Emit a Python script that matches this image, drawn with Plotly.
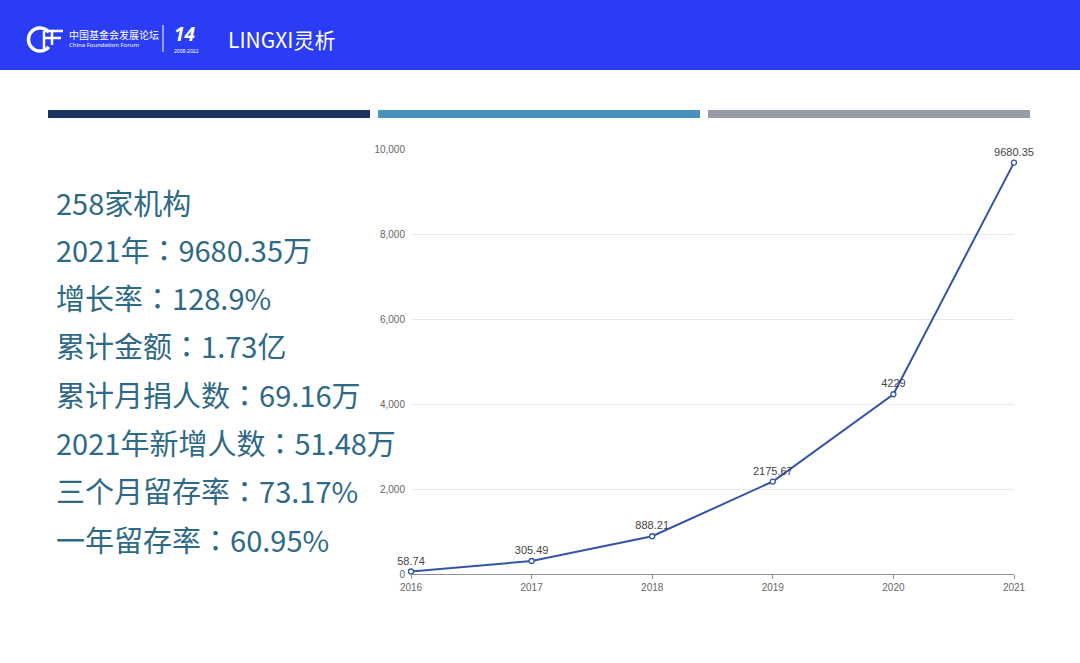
import plotly.graph_objects as go
import math

years = [2016, 2017, 2018, 2019, 2020, 2021]
amounts = [58.74, 305.49, 888.21, 2175.67, 4229, 9680.35]
amount_labels = ["58.74", "305.49", "888.21", "2175.67", "4229", "9680.35"]
y_ticks = [0, 2000, 4000, 6000, 8000, 10000]
y_tick_labels = ["0", "2,000", "4,000", "6,000", "8,000", "10,000"]
stats = ["258家机构", "2021年：9680.35万", "增长率：128.9%", "累计金额：1.73亿",
         "累计月捐人数：69.16万", "2021年新增人数：51.48万", "三个月留存率：73.17%", "一年留存率：60.95%"]

W, H = 1080, 663
L, R, T, B = 411, 66, 149, 89

def px_x(p): return (p - L) / (W - L - R)
def px_y(p): return (H - B - p) / (H - T - B)

fig = go.Figure()
fig.add_trace(go.Scatter(
    x=years, y=amounts, mode="lines+markers+text",
    text=amount_labels, textposition="top center",
    textfont=dict(family="Liberation Sans, Arial, sans-serif", size=11, color="#444"),
    line=dict(color="#3455a6", width=2),
    marker=dict(size=5, color="white", line=dict(color="#3455a6", width=1.3)),
    cliponaxis=False, showlegend=False, hoverinfo="x+y"))

shapes = [dict(type="rect", xref="paper", yref="paper", x0=px_x(0), x1=px_x(W), y0=px_y(70), y1=px_y(0),
               fillcolor="#2b3cf5", line_width=0, layer="below")]
for x0, x1, c in [(48, 370, "#1d335f"), (378, 700, "#4a91bb"), (708, 1030, "#969da6")]:
    shapes.append(dict(type="rect", xref="paper", yref="paper", x0=px_x(x0), x1=px_x(x1),
                       y0=px_y(118), y1=px_y(110), fillcolor=c, line_width=0))
# separator in header
shapes.append(dict(type="line", xref="paper", yref="paper", x0=px_x(163), x1=px_x(163),
                   y0=px_y(25), y1=px_y(52), line=dict(color="white", width=1)))

# CFF logo mark (decorative): open circle + F strokes
cx, cy, r = 40, 39.5, 11.5
pts = []
for k in range(0, 41):
    a = math.radians(40 + k * 7)
    pts.append((cx + r * math.cos(a), cy - r * math.sin(a)))
path = "M " + " L ".join(f"{px_x(x):.5f},{px_y(y):.5f}" for x, y in pts)
shapes.append(dict(type="path", xref="paper", yref="paper", path=path, line=dict(color="white", width=3.5)))
for (x0, y0, x1, y1) in [(44, 31, 54, 31), (44, 31, 44, 50), (44, 38, 52, 38),
                         (52, 31, 63, 31), (52, 31, 52, 45), (52, 38, 61, 38)]:
    shapes.append(dict(type="line", xref="paper", yref="paper", x0=px_x(x0), x1=px_x(x1),
                       y0=px_y(y0), y1=px_y(y1), line=dict(color="white", width=2.5)))

ann = []
ys = [202, 249, 297, 345, 394, 442, 490, 539]
colon_html = '<span style="font-family:Noto Sans CJK TC">：</span>'
for s, yy in zip(stats, ys):
    ann.append(dict(xref="paper", yref="paper", x=px_x(54), y=px_y(yy), text=s.replace("：", colon_html),
                    showarrow=False, xanchor="left", yanchor="middle",
                    font=dict(family="Noto Sans CJK SC", size=29, color="#2e6986")))
ann.append(dict(xref="paper", yref="paper", x=px_x(67), y=px_y(35), text="中国基金会发展论坛", showarrow=False,
                xanchor="left", yanchor="middle", font=dict(family="Noto Sans CJK SC", size=10, color="white")))
ann.append(dict(xref="paper", yref="paper", x=px_x(67), y=px_y(45), text="China Foundation Forum", showarrow=False,
                xanchor="left", yanchor="middle", font=dict(family="Noto Sans", size=6, color="white")))
ann.append(dict(xref="paper", yref="paper", x=px_x(172), y=px_y(34), text="<i><b>14</b></i>", showarrow=False,
                xanchor="left", yanchor="middle", font=dict(family="Noto Sans", size=19, color="white")))
ann.append(dict(xref="paper", yref="paper", x=px_x(172), y=px_y(51), text="2008-2022", showarrow=False,
                xanchor="left", yanchor="middle", font=dict(family="Noto Sans", size=5, color="white")))
ann.append(dict(xref="paper", yref="paper", x=px_x(226), y=px_y(39), text="LINGXI灵析", showarrow=False,
                xanchor="left", yanchor="middle", font=dict(family="Noto Sans CJK SC", size=21, color="white")))

fig.update_layout(
    width=W, height=H, margin=dict(l=L, r=R, t=T, b=B),
    paper_bgcolor="white", plot_bgcolor="white",
    shapes=shapes, annotations=ann,
    xaxis=dict(range=[2016, 2021], tickvals=years, ticktext=[str(y) for y in years],
               showgrid=False, showline=True, linecolor="#8a8f99", linewidth=1,
               ticks="outside", ticklen=4, tickcolor="#8a8f99",
               tickfont=dict(family="Liberation Sans, Arial, sans-serif", size=10, color="#666"), zeroline=False),
    yaxis=dict(range=[0, 10000], tickvals=y_ticks, ticktext=y_tick_labels,
               showgrid=True, gridcolor="#e6e9f2", gridwidth=1, zeroline=False, showline=False,
               ticks="", ticklabelstandoff=5,
               tickfont=dict(family="Liberation Sans, Arial, sans-serif", size=10, color="#666")),
)
fig.write_html("out.html")
